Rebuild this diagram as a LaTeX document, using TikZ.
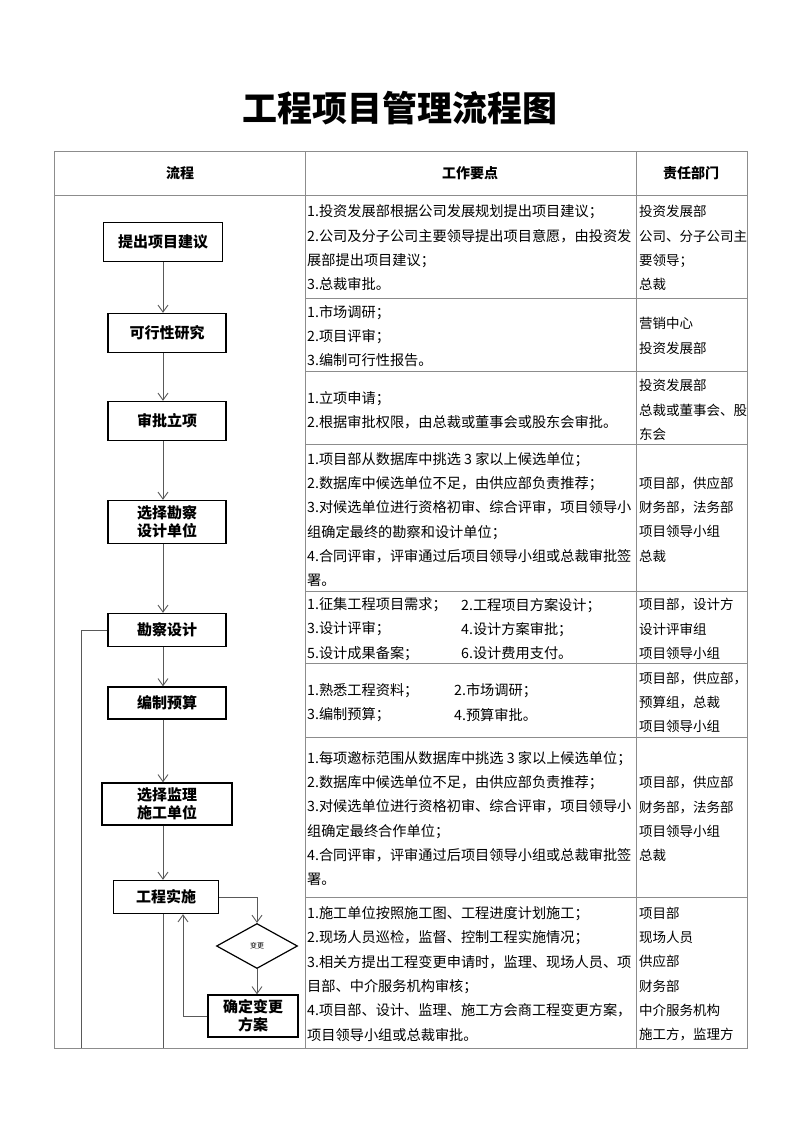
\documentclass[tikz,border=0pt]{standalone}
\usepackage{fontspec}
\setmainfont{Noto Sans CJK SC}
\usetikzlibrary{arrows.meta, positioning}
\usetikzlibrary{shapes.geometric}

\begin{document}
\begin{tikzpicture}[x=1pt, y=-1pt,
  box/.style={draw, line width=1.4pt, align=center, inner sep=0pt,
    font=\bfseries\fontsize{15}{18}\selectfont},
  arr/.style={draw=black!65, line width=0.9pt, -{Straight Barb[length=7pt,width=10pt]}},
  link/.style={draw=black!65, line width=0.9pt},
  grid/.style={draw=black!45, line width=0.8pt},
  cell/.style={anchor=west, align=left, inner sep=0pt,
    font=\fontsize{14.2}{24.3}\selectfont},
  dept/.style={cell, font=\fontsize{13.5}{24.3}\selectfont},
  head/.style={font=\bfseries\fontsize{14}{16}\selectfont}]
\useasboundingbox (0,0) rectangle (800,1132);

\node[font=\bfseries\fontsize{35}{40}\selectfont] (title) at (400,108) {工程项目管理流程图};

% table
\draw[grid] (54,151) rectangle (747,1048);
\draw[grid] (305,151) -- (305,1048);
\draw[grid] (636,151) -- (636,1048);
\draw[grid] (54,195) -- (747,195);
\foreach \y in {298,371,444,591,663,737,897}
  \draw[grid] (305,\y) -- (747,\y);
\node[head] (h1) at (180,173) {流程};
\node[head] (h2) at (470,173) {工作要点};
\node[head] (h3) at (691,173) {责任部门};

% flow
\node[box, minimum width=119pt, minimum height=39pt] (a) at (163,242) {提出项目建议};
\node[box, minimum width=118pt, minimum height=39pt] (b) at (167,333) {可行性研究};
\node[box, minimum width=118pt, minimum height=39pt] (c) at (167,421) {审批立项};
\node[box, minimum width=118pt, minimum height=43pt] (d) at (167,522) {选择勘察\\设计单位};
\node[box, minimum width=118pt, minimum height=33pt] (e) at (167,630) {勘察设计};
\node[box, minimum width=118pt, minimum height=32pt] (f) at (167,703) {编制预算};
\node[box, minimum width=130pt, minimum height=42pt] (g) at (167,804) {选择监理\\施工单位};
\node[box, minimum width=105pt, minimum height=33pt] (h) at (166,897) {工程实施};
\node[diamond, draw, line width=1.2pt, minimum width=81pt, minimum height=45pt, inner sep=0pt,
  aspect=1.8, font=\fontsize{7}{8}\selectfont] (i) at (257,946) {变更};
\node[box, minimum width=90pt, minimum height=42pt] (j) at (253,1016) {确定变更\\方案};
\coordinate (z1) at (163,1048);
\coordinate (z2) at (81,1048);

\draw[arr] (a.south) -- (a.south |- b.north);
\draw[arr] (b.south -| a) -- (a |- c.north);
\draw[arr] (c.south -| a) -- (a |- d.north);
\draw[arr] (d.south -| a) -- (a |- e.north);
\draw[arr] (e.south -| a) -- (a |- f.north);
\draw[arr] (f.south -| a) -- (a |- g.north);
\draw[arr] (g.south -| a) -- (a |- h.north);
\draw[arr] (h.east) -| (i.north);
\draw[arr] (i.south) -- (i.south |- j.north);
\draw[arr] (j.west) -| ([xshift=17pt]h.south);
\draw[link] (h.south -| a) -- (z1);
\draw[link] (e.west) -| (z2);

% work points
\node[cell] (t1) at (307,248) {1.投资发展部根据公司发展规划提出项目建议；\\2.公司及分子公司主要领导提出项目意愿，由投资发\\展部提出项目建议；\\3.总裁审批。};
\node[cell] (t2) at (307,336) {1.市场调研；\\2.项目评审；\\3.编制可行性报告。};
\node[cell] (t3) at (307,410) {1.立项申请；\\2.根据审批权限，由总裁或董事会或股东会审批。};
\node[cell] (t4) at (307,519.5) {1.项目部从数据库中挑选 3 家以上候选单位；\\2.数据库中候选单位不足，由供应部负责推荐；\\3.对候选单位进行资格初审、综合评审，项目领导小\\组确定最终的勘察和设计单位；\\4.合同评审，评审通过后项目领导小组或总裁审批签\\署。};
\node[cell] (t5) at (307,629) {1.征集工程项目需求；\\3.设计评审；\\5.设计成果备案；};
\node[cell] (t5b) at (461,629) {2.工程项目方案设计；\\4.设计方案审批；\\6.设计费用支付。};
\node[cell] (t6) at (307,702.5) {1.熟悉工程资料；\\3.编制预算；};
\node[cell] (t6b) at (454,702.5) {2.市场调研；\\4.预算审批。};
\node[cell] (t7) at (307,818.5) {1.每项邀标范围从数据库中挑选 3 家以上候选单位；\\2.数据库中候选单位不足，由供应部负责推荐；\\3.对候选单位进行资格初审、综合评审，项目领导小\\组确定最终合作单位；\\4.合同评审，评审通过后项目领导小组或总裁审批签\\署。};
\node[cell] (t8) at (307,974) {1.施工单位按照施工图、工程进度计划施工；\\2.现场人员巡检，监督、控制工程实施情况；\\3.相关方提出工程变更申请时，监理、现场人员、项\\目部、中介服务机构审核；\\4.项目部、设计、监理、施工方会商工程变更方案，\\项目领导小组或总裁审批。};

% departments
\node[dept] (r1) at (639,248) {投资发展部\\公司、分子公司主\\要领导；\\总裁};
\node[dept] (r2) at (639,336) {营销中心\\投资发展部};
\node[dept] (r3) at (639,410) {投资发展部\\总裁或董事会、股\\东会};
\node[dept] (r4) at (639,519.5) {项目部，供应部\\财务部，法务部\\项目领导小组\\总裁};
\node[dept] (r5) at (639,629) {项目部，设计方\\设计评审组\\项目领导小组};
\node[dept] (r6) at (639,702.5) {项目部，供应部，\\预算组，总裁\\项目领导小组};
\node[dept] (r7) at (639,819) {项目部，供应部\\财务部，法务部\\项目领导小组\\总裁};
\node[dept] (r8) at (639,974) {项目部\\现场人员\\供应部\\财务部\\中介服务机构\\施工方，监理方};
\end{tikzpicture}
\end{document}
